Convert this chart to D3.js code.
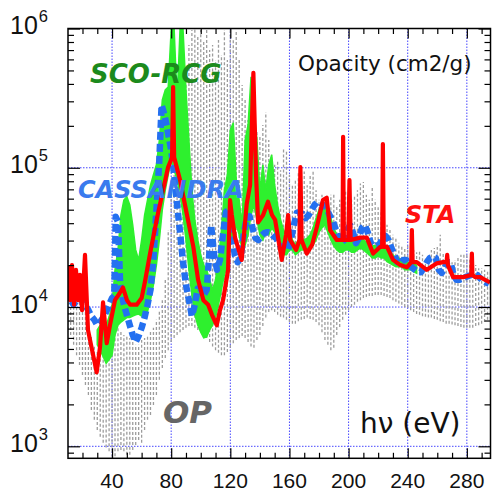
<!DOCTYPE html>
<html><head><meta charset="utf-8">
<script src="https://cdn.jsdelivr.net/npm/d3@7"></script>
<style>body{margin:0;background:#fff}</style>
</head><body>
<svg id="c" width="492" height="495"></svg>
<script>
// ---------- DATA ----------
const opEnergy = [10,12,14,16,18,20,22,24,26,28,30,32,34,36,38,40,42,44,46,48,50,52,54,56,58,60,62,64,66,68,70,72,74,76,78,80,82,84,86,88,90,92,94,96,98,100,102,104,106,108,110,112,114,116,118,120,122,124,126,128,130,132,134,136,138,140,142,144,146,148,150,152,154,156,158,160,162,164,166,168,170,172,174,176,178,180,182,184,186,188,190,192,194,196,198,200,202,204,206,208,210,212,214,216,218,220,222,224,226,228,230,232,234,236,238,240,242,244,246,248,250,252,254,256,258,260,262,264,266,268,270,272,274,276,278,280,282,284,286,288,290,292,294,296];
const opHigh = [13300,14400,13300,15700,14400,13300,11200,8100,6300,5350,4900,4500,4900,5350,5800,6300,6850,7100,6850,6300,6300,6000,5800,5350,5350,5800,6000,6300,6850,7100,8100,9500,11200,15700,35700,81700,158000,260000,307000,362000,504000,762000,975000,990000,898000,975000,826000,975000,701000,762000,595000,826000,646000,975000,595000,975000,826000,975000,595000,393000,307000,220000,134000,158000,187000,172000,203000,250000,158000,124000,105000,114000,96000,140000,134000,89000,75000,82000,94000,85000,94000,75000,89000,94000,69000,59000,64000,59000,54000,64000,66000,54000,59000,64000,69000,72000,59000,64000,69000,77000,79000,64000,59000,72000,59000,52000,48000,42000,39000,36000,33000,31000,29000,28000,27000,27500,26500,25700,24700,25700,23700,22500,21800,25700,26500,27000,33000,24700,23000,21800,21000,21800,22500,23700,24000,24500,22500,21000,20000,19000,19000,18500,18000,18000];
const opLow = [6850,6300,5350,4500,3840,3250,2760,2340,1820,1550,1310,1170,1060,980,920,830,850,920,940,920,870,870,940,1020,1110,1060,1310,1550,1680,1980,2340,3000,3650,4300,4900,5600,6000,6300,6600,6850,7100,7300,7300,7100,6850,6600,6300,6000,5600,5200,4900,4700,4500,4500,4750,5100,5500,5800,6000,6200,6000,5600,5200,5100,5800,6300,7300,8400,9200,9500,9200,8800,8500,8400,8100,7800,7600,7600,7900,8100,8200,8400,8200,8100,7800,7400,6600,5800,5350,4900,5100,6300,7200,8100,8800,9500,10000,10400,10900,11200,11600,11800,12000,12000,12200,12200,12200,12000,11800,11600,11200,10900,10600,10400,10000,9900,9500,9200,8900,8800,8600,8500,8400,8400,8200,8100,7900,7800,7600,7600,7500,7400,7300,7200,7100,7100,7100,7100,7300,7400,7600,7800,8100,8100];

const scoEnergy = [30,32,34,36,38,40,42,44,46,48,50,52,54,56,58,60,62,64,66,68,70,72,74,76,78,80,82,84,86,88,90,92,94,96,98,100,102,104,106,108,110,112,114,116,118,120,122,124,126,128,130,132,134,136,138,140,142,144,146,148,150,152,154,156,158,160,162,164,166,168,170,172,174,176,178,180,182,184,186,188,190,192,194,196,198,200,202,204,206,208,210,212,214,216,218,220,222,224,226,228,230,232,234,236,238,240,242,244,246];
const scoHigh = [6850,7400,8100,7400,8500,10400,18500,25700,45800,58700,62000,54000,38800,25700,21800,30300,45800,58700,75000,89000,105000,158000,307000,362000,380000,990000,990000,307000,990000,990000,362000,158000,69000,42000,30300,23700,20000,18500,15700,13300,15700,21800,35700,69000,89000,187000,210000,82000,58700,38800,158000,203000,450000,260000,158000,69000,105000,69000,105000,124000,75000,54000,42200,35700,33000,34500,30300,27900,30300,31300,30300,31300,33000,37000,43500,49800,54000,54000,49800,43500,37000,33000,31300,30300,31300,31300,30300,30300,31300,31300,30300,29300,27900,27500,27500,27900,27500,26500,25700,24700,23700,22500,22500,21800,21800,21000,21000,20500,20000];
const scoLow = [5350,4900,4400,3950,4200,4500,6300,7400,7800,8100,8400,8400,8600,8800,8900,8600,8400,9300,11200,14400,20000,30300,49800,69000,89000,114000,96000,82000,64000,46000,30300,18500,12200,8800,7400,6600,6000,6100,6850,7400,8400,10400,13300,17000,20000,27900,33000,38800,33000,25700,27900,33000,45800,54000,42200,33000,30300,34500,33000,37000,34500,30300,26500,23700,23700,25700,25700,23700,24700,25700,25700,25700,26500,27900,30300,34500,37000,38800,34500,30300,27500,25700,24700,24700,25700,25700,24700,24700,25700,26500,25700,24700,23700,22500,22500,23300,22500,22500,21200,20600,20000,19500,19500,19500,18500,18500,18500,18000,17500];

const casEnergy = [10.2,12,14,16,18,20,22,24,26,28,30,32,34,36,38,40,41.5,42.5,44,45.5,48,50,52,54,56,58,60,62,64,66,68,70,72,73.5,75,77,80,82,84,86,88,90,92,94,96,98,100,102,104,106,107,109,111,113,115,117,119,121,123,125,127,129,131,133,135,137,139,141,143,145,147,149,151,153,155,157,159,161,163,165,167,169,171,173,175,177,179,181,183,185,187,189,191,193,195,197,199,201,203,205,207,209,211,213,215,217,219,221,223,225,227,229,231,233,235,237,239,241,243,245,247,249,251,253,255,257,259,261,263,265,267,269,271,273,275,277,279,281,283,285,287,289,291,293,295];
const casValue = [13300,11200,10400,11200,11600,10900,10200,9500,8600,8100,7400,7800,8400,9200,10400,11600,12000,44500,41000,14400,10400,8800,7400,6300,5600,6200,7100,8400,10400,13300,21800,49800,114000,282000,250000,200000,134000,88700,54100,34300,21000,14400,11200,8600,10400,13600,13600,12200,13300,25700,38800,23700,18500,21800,33000,48000,49800,33000,23700,21000,22500,33000,43500,45000,37000,31300,30300,32400,34000,34500,34000,32400,31300,28400,26500,25700,25700,30300,38800,47500,48000,46600,43500,45800,49800,54100,57000,56000,54100,51500,45800,42200,37000,32400,28800,30300,35700,38800,34300,28800,31300,37000,38800,34300,28800,27500,27500,28400,31300,32400,30300,26500,23700,21000,20600,21800,21800,20000,19200,18500,17800,17800,19200,21000,22500,23000,22500,18500,17600,19200,21000,21000,17000,15700,15700,16100,16400,16700,17000,17300,17000,16100,15400,15000,14700];

const staEnergy = [10.2,11.6,12.9,14.3,15.6,17,18.3,19.7,21.7,23.7,26.5,29.6,31.9,33.9,36.4,38.6,42,45,47.4,50.1,52.2,56.7,60,62.5,65.7,70.4,74.5,77.9,80.6,81.3,82,86,90.7,95,98.2,101.8,105,107.6,110.8,113,115.1,118.5,119.8,121,123.2,127.7,131.1,133.4,135.6,137.4,138.8,142.2,145.5,148.2,150.3,154.8,157.7,159.1,160.5,164.5,166.8,167.4,168.2,171.7,175.3,178.5,182.7,185.2,187.5,192,195.9,196.3,196.8,199.8,200.6,201.4,207.8,212.3,216.6,221.3,222.7,223.2,223.8,226,230.1,235,239.4,242.4,242.8,243.3,246.1,252.9,259.7,263.9,266.3,266.7,267.2,270.7,277.5,283,283.4,283.8,285.6,289,295.7];
const staValue = [20000,11200,20000,10400,18500,11200,17000,9500,23700,6850,4900,3400,5200,10800,5500,7400,11200,12500,13800,11200,10400,10400,11600,15700,24200,43500,69000,101000,119000,380000,119000,81700,45800,27000,15700,11200,10400,8800,7400,9500,11200,18500,58700,45800,31500,21800,55000,75300,480000,88700,40500,45800,57000,45800,42200,21800,33000,45800,30300,25700,30300,101000,30300,24200,27900,37400,58700,61000,35700,30300,30300,167000,30300,30300,81700,30300,31500,31500,24200,27000,27000,148000,27000,27000,21800,20000,19300,21000,35700,21000,21000,18500,20600,21000,21000,23700,20000,16400,16400,17000,24200,17000,16400,16400,15000];

const xMajor = [40,80,120,160,200,240,280];
const xMinor = [20,30,50,60,70,90,100,110,130,140,150,170,180,190,210,220,230,250,260,270,290];
const yDecades = [1e3,1e4,1e5,1e6];
const yMinor = [900,2e3,3e3,4e3,5e3,6e3,7e3,8e3,9e3,2e4,3e4,4e4,5e4,6e4,7e4,8e4,9e4,2e5,3e5,4e5,5e5,6e5,7e5,8e5,9e5];
const yExponents = ["3","4","5","6"];

// ---------- SCALES ----------
const M = {l:68, r:490.5, t:28.5, b:458.3};
const x = d3.scaleLinear().domain([10.2, 296]).range([M.l, M.r]);
const y = d3.scaleLog().domain([820, 1e6]).range([M.b, M.t]);

const svg = d3.select("#c");
svg.append("defs").append("clipPath").attr("id","clip")
  .append("rect").attr("x",M.l).attr("y",M.t).attr("width",M.r-M.l).attr("height",M.b-M.t);

// grid
const grid = svg.append("g").attr("stroke","#4646ff").attr("stroke-width",1).attr("stroke-dasharray","1.5,1.5");
grid.selectAll("line.gx").data(xMajor).join("line")
  .attr("x1",d=>x(d)).attr("x2",d=>x(d)).attr("y1",M.t).attr("y2",M.b);
grid.selectAll("line.gy").data(yDecades.slice(0,3)).join("line").attr("class","gy")
  .attr("x1",M.l).attr("x2",M.r).attr("y1",d=>y(d)).attr("y2",d=>y(d));

const plot = svg.append("g").attr("clip-path","url(#clip)");

// OP : gray dashed line forest
plot.append("g").selectAll("line").data(opEnergy).join("line")
  .attr("x1",d=>x(d)).attr("x2",d=>x(d))
  .attr("y1",(d,i)=>y(opLow[i])).attr("y2",(d,i)=>y(opHigh[i]))
  .attr("stroke","#9c9c9c").attr("stroke-width",1.3).attr("stroke-dasharray","3,2");

// SCO-RCG : green band
const area = d3.area().x((d,i)=>x(scoEnergy[i])).y0((d,i)=>y(scoLow[i])).y1((d,i)=>y(scoHigh[i]));
plot.append("path").attr("d",area(scoEnergy)).attr("fill","#2ef02e").attr("stroke","#2ef02e").attr("stroke-width",1.5);

// CASSANDRA : blue dashed
const lineC = d3.line().x((d,i)=>x(casEnergy[i])).y((d,i)=>y(casValue[i]));
plot.append("path").attr("d",lineC(casEnergy)).attr("fill","none")
  .attr("stroke","#2470f0").attr("stroke-width",6.5).attr("stroke-dasharray","8,4").attr("stroke-linejoin","round");

// STA : red
const lineS = d3.line().x((d,i)=>x(staEnergy[i])).y((d,i)=>y(staValue[i]));
plot.append("path").attr("d",lineS(staEnergy)).attr("fill","none")
  .attr("stroke","#ff0000").attr("stroke-width",4.2).attr("stroke-linejoin","round");

// axes (inward ticks)
function styleAxis(g){ g.select(".domain").remove(); g.selectAll("line").attr("stroke","#000").attr("stroke-width",1.2); g.selectAll("text").remove(); }
svg.append("g").attr("transform",`translate(0,${M.b})`).call(d3.axisBottom(x).tickValues(xMajor).tickSize(-10).tickSizeOuter(0)).call(styleAxis);
svg.append("g").attr("transform",`translate(0,${M.b})`).call(d3.axisBottom(x).tickValues(xMinor).tickSize(-5.5).tickSizeOuter(0)).call(styleAxis);
svg.append("g").attr("transform",`translate(0,${M.t})`).call(d3.axisTop(x).tickValues(xMajor).tickSize(-10).tickSizeOuter(0)).call(styleAxis);
svg.append("g").attr("transform",`translate(0,${M.t})`).call(d3.axisTop(x).tickValues(xMinor).tickSize(-5.5).tickSizeOuter(0)).call(styleAxis);
svg.append("g").attr("transform",`translate(${M.l},0)`).call(d3.axisLeft(y).tickValues(yDecades).tickSize(-12).tickSizeOuter(0)).call(styleAxis);
svg.append("g").attr("transform",`translate(${M.l},0)`).call(d3.axisLeft(y).tickValues(yMinor).tickSize(-6).tickSizeOuter(0)).call(styleAxis);
svg.append("g").attr("transform",`translate(${M.r},0)`).call(d3.axisRight(y).tickValues(yDecades).tickSize(-12).tickSizeOuter(0)).call(styleAxis);
svg.append("g").attr("transform",`translate(${M.r},0)`).call(d3.axisRight(y).tickValues(yMinor).tickSize(-6).tickSizeOuter(0)).call(styleAxis);

// frame
svg.append("rect").attr("x",M.l).attr("y",M.t).attr("width",M.r-M.l).attr("height",M.b-M.t)
  .attr("fill","none").attr("stroke","#000").attr("stroke-width",1.5);

// x tick labels
svg.append("g").selectAll("text").data(xMajor).join("text")
  .attr("x",d=>x(d)).attr("y",488).attr("text-anchor","middle")
  .attr("font-family","Liberation Sans, Arial, sans-serif").attr("font-size",21).attr("fill","#111")
  .text(d=>d);

// y tick labels
const yl = svg.append("g").selectAll("text").data(yDecades).join("text")
  .attr("x",10).attr("y",d=>y(d)+5.5)
  .attr("font-family","Liberation Sans, Arial, sans-serif").attr("font-size",25).attr("fill","#111");
yl.append("tspan").text("10");
yl.append("tspan").attr("font-size",16.5).attr("dy",-12).attr("dx",1).text((d,i)=>yExponents[i]);

// annotations
svg.append("text").attr("x",298).attr("y",71).attr("font-family","DejaVu Sans, sans-serif").attr("font-size",21.5).attr("fill","#111").text("Opacity (cm2/g)");
svg.append("text").attr("x",360).attr("y",433).attr("font-family","DejaVu Sans, sans-serif").attr("font-size",28).attr("fill","#111").text("hν (eV)");
const ann = (t,xx,yy,fs,col)=>svg.append("text").attr("x",xx).attr("y",yy).attr("font-family","DejaVu Sans, sans-serif")
  .attr("font-weight","bold").attr("font-style","italic").attr("font-size",fs).attr("fill",col).text(t);
ann("SCO-RCG",90,83,26,"#1c8a1c");
ann("CASSANDRA",78,198,24,"#3a7bee");
ann("STA",405,223,24,"#ff1010");
ann("OP",163,423,31,"#666666");
</script>
</body></html>
